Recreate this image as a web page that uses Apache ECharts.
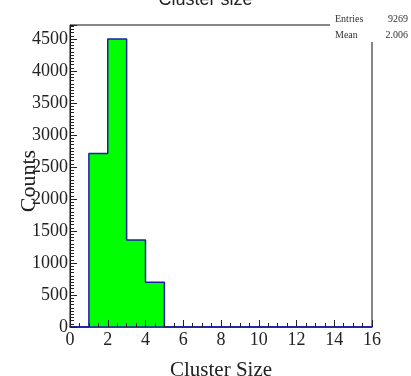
<!DOCTYPE html>
<html><head><meta charset="utf-8">
<script src="https://cdn.jsdelivr.net/npm/echarts@6/dist/echarts.min.js"></script>
<style>html,body{margin:0;padding:0;background:#fff}#c{width:411px;height:376px}</style>
</head><body><div id="c"></div>
<script>
const binEdges = [0,1,2,3,4,5,6,7,8,9,10,11,12,13,14,15];
const binCounts = [0,2710,4500,1360,700,0,0,0,0,0,0,0,0,0,0,0];
const xUpper = 16;
const statsLabels = ['Entries','Mean'];
const statsValues = ['9269','2.006'];

const pts = binEdges.map((e,i)=>[e, binCounts[i]]);
pts.push([xUpper, binCounts[binCounts.length-1]]);

const serif = '"Liberation Serif","DejaVu Serif",serif';
const chart = echarts.init(document.getElementById('c'));
chart.setOption({
  animation:false,
  title:{text:'Cluster size',left:'center',top:-14,textStyle:{fontFamily:'"Liberation Sans",Arial,sans-serif',fontSize:18,fontWeight:'normal',color:'#222'}},
  grid:{left:70,right:39,top:25,bottom:49,outerBoundsMode:'none',containLabel:false,show:true,borderColor:'#111',borderWidth:1,backgroundColor:'#fff'},
  xAxis:{type:'value',min:0,max:16,interval:2,z:10,
    name:'Cluster Size',nameLocation:'middle',nameGap:33,nameMoveOverlap:false,
    nameTextStyle:{fontFamily:serif,fontSize:21,color:'#222'},
    axisLine:{lineStyle:{color:'#1e1eaa',width:1.5}},
    axisTick:{inside:true,length:7,lineStyle:{color:'#222'}},
    minorTick:{show:true,splitNumber:4,length:4,lineStyle:{color:'#222'}},
    splitLine:{show:false},
    axisLabel:{margin:4,fontFamily:serif,fontSize:18,color:'#222'}},
  yAxis:{type:'value',min:0,max:4720,interval:500,z:10,
    name:'Counts',nameLocation:'middle',nameGap:30,nameMoveOverlap:false,
    nameTextStyle:{fontFamily:serif,fontSize:22,color:'#222',padding:[0,10,0,0]},
    axisLine:{show:true,lineStyle:{color:'#111',width:1}},
    axisTick:{inside:true,length:7,lineStyle:{color:'#222'}},
    minorTick:{show:true,splitNumber:10,length:4,lineStyle:{color:'#222'}},
    splitLine:{show:false},
    axisLabel:{margin:2,showMaxLabel:false,fontFamily:serif,fontSize:18,color:'#222',
      formatter:v=> (v%500===0? String(v):'')}},
  series:[{type:'line',step:'end',data:pts,symbol:'none',z:3,
    lineStyle:{color:'#1e1eaa',width:1.5},
    areaStyle:{color:'#00ff00',opacity:1}}],
  graphic:[
    {type:'rect',z:100,shape:{x:330,y:12,width:81,height:30},style:{fill:'#fff'}},
    {type:'text',z:101,left:335,top:14,style:{text:statsLabels[0],font:'10px '+serif,fill:'#333'}},
    {type:'text',z:101,left:335,top:30,style:{text:statsLabels[1],font:'10px '+serif,fill:'#333'}},
    {type:'text',z:101,right:3,top:14,style:{text:statsValues[0],font:'10px '+serif,fill:'#333',align:'right'}},
    {type:'text',z:101,right:3,top:30,style:{text:statsValues[1],font:'10px '+serif,fill:'#333',align:'right'}}
  ]
});
</script></body></html>
